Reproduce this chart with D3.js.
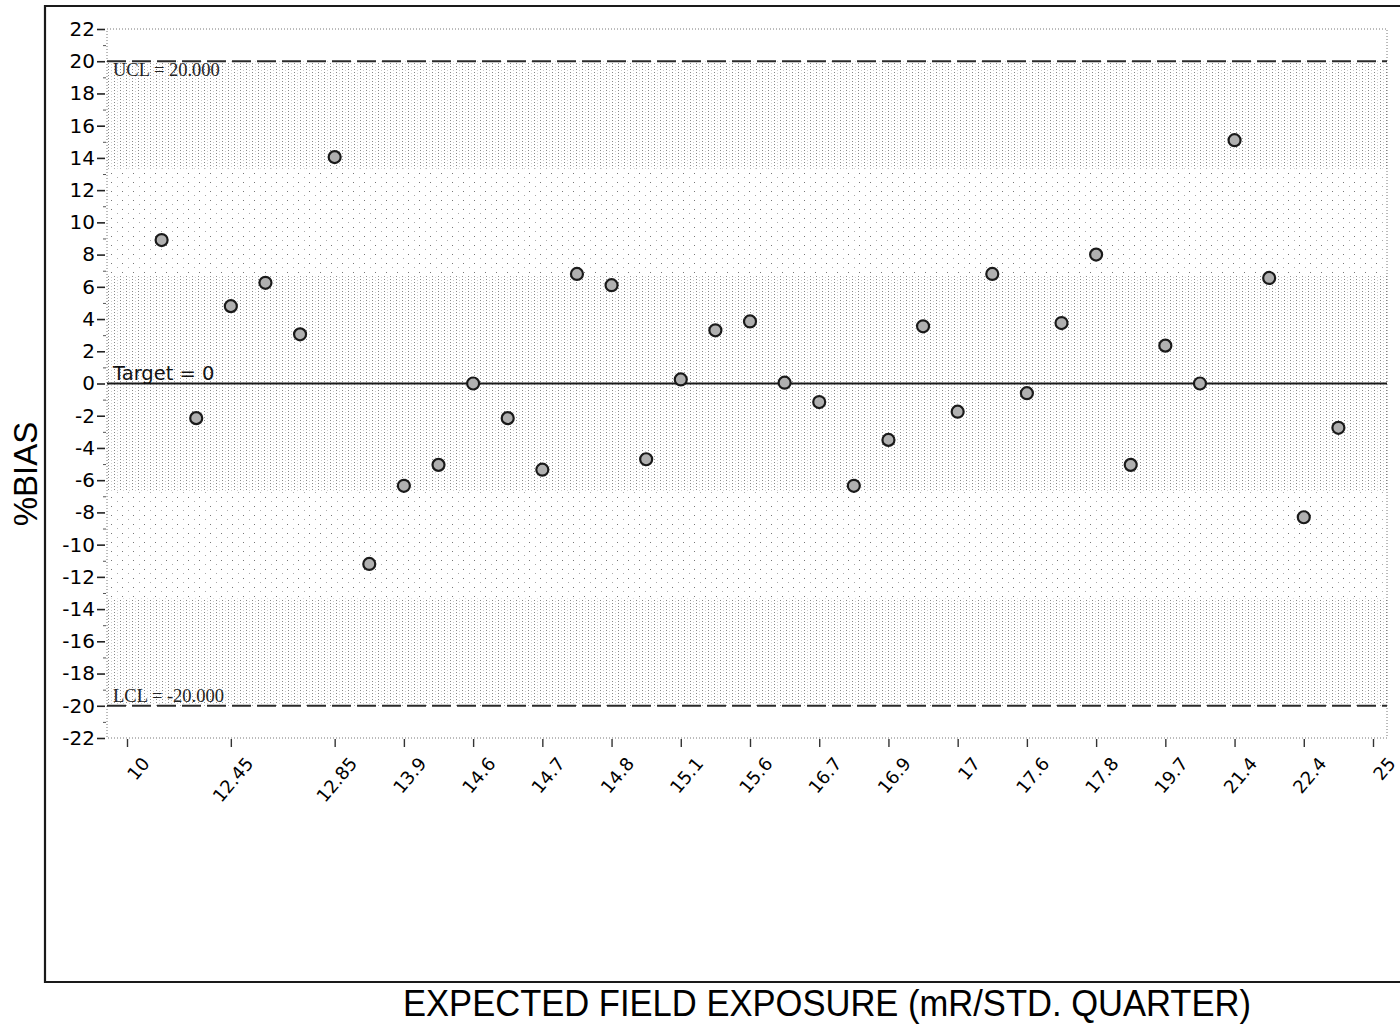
<!DOCTYPE html>
<html>
<head>
<meta charset="utf-8">
<script src="https://cdn.jsdelivr.net/npm/d3@7"></script>
<style>
  html, body { margin: 0; padding: 0; background: #fff; }
  svg { display: block; }
</style>
</head>
<body>
<svg id="chart" width="1400" height="1027"></svg>
<script>
// %BIAS of each sample, in run order (row 1 .. 35)
const biasValues = [
  8.9, -2.15, 4.8, 6.25, 3.05, 14.05, -11.2, -6.35, -5.05, 0.0,
  -2.15, -5.35, 6.8, 6.1, -4.7, 0.25, 3.3, 3.85, 0.05, -1.15,
  -6.35, -3.5, 3.55, -1.75, 6.8, -0.6, 3.75, 8.0, -5.05, 2.35,
  0.0, 15.1, 6.55, -8.3, -2.75
];

// Axis rows carrying an exposure label, and the labels themselves
const xTickRows = [0, 3, 6, 8, 10, 12, 14, 16, 18, 20, 22, 24, 26, 28, 30, 32, 34, 36];
const xTickLabels = ["10", "12.45", "12.85", "13.9", "14.6", "14.7", "14.8", "15.1", "15.6",
                     "16.7", "16.9", "17", "17.6", "17.8", "19.7", "21.4", "22.4", "25"];

// Vertical axis ticks
const yMajorTicks = d3.range(-22, 23, 2);
const yMinorTicks = d3.range(-21, 22, 2);

// Control limits
const centerLine = 0;
const upperLimit = 20;
const lowerLimit = -20;

const svg = d3.select("#chart");

const plot = { left: 107, right: 1387, top: 29, bottom: 738 };

const x = d3.scaleLinear().domain([0, 36]).range([127, 1373]);
const y = d3.scaleLinear().domain([-22, 22]).range([plot.bottom, plot.top]);

// Halftone-like fills for the control zones
const defs = svg.append("defs");
const dense = defs.append("pattern").attr("id", "zoneDense")
  .attr("patternUnits", "userSpaceOnUse").attr("width", 6).attr("height", 3);
dense.append("rect").attr("x", 0).attr("y", 0).attr("width", 1).attr("height", 1).attr("fill", "#888");
dense.append("rect").attr("x", 3).attr("y", 1).attr("width", 1).attr("height", 1).attr("fill", "#ccc");

const sparse = defs.append("pattern").attr("id", "zoneSparse")
  .attr("patternUnits", "userSpaceOnUse").attr("width", 11).attr("height", 9);
sparse.append("rect").attr("x", 1).attr("y", 2).attr("width", 1).attr("height", 1).attr("fill", "#777");
sparse.append("rect").attr("x", 7).attr("y", 6).attr("width", 1).attr("height", 1).attr("fill", "#aaa");

const sigma = (upperLimit - centerLine) / 3;
const zones = [
  { lo: centerLine + 2 * sigma, hi: upperLimit, fill: "url(#zoneDense)" },
  { lo: centerLine + sigma, hi: centerLine + 2 * sigma, fill: "url(#zoneSparse)" },
  { lo: centerLine - sigma, hi: centerLine + sigma, fill: "url(#zoneDense)" },
  { lo: centerLine - 2 * sigma, hi: centerLine - sigma, fill: "url(#zoneSparse)" },
  { lo: lowerLimit, hi: centerLine - 2 * sigma, fill: "url(#zoneDense)" }
];
svg.append("g").selectAll("rect").data(zones).join("rect")
  .attr("x", plot.left).attr("width", plot.right - plot.left)
  .attr("y", d => y(d.hi)).attr("height", d => y(d.lo) - y(d.hi))
  .attr("fill", d => d.fill);

// Outer frame (top, left, bottom)
svg.append("path")
  .attr("d", "M1400,6 H45 V982 H1400")
  .attr("fill", "none").attr("stroke", "#1a1a1a").attr("stroke-width", 2.2);

// Dotted plot border
svg.append("rect")
  .attr("x", plot.left).attr("y", plot.top)
  .attr("width", plot.right - plot.left).attr("height", plot.bottom - plot.top)
  .attr("fill", "none").attr("stroke", "#777").attr("stroke-width", 1)
  .attr("stroke-dasharray", "1,2");

// Y axis
const yAxis = d3.axisLeft(y).tickValues(yMajorTicks).tickSize(8).tickPadding(2)
  .tickFormat(d => String(d));
const gy = svg.append("g").attr("transform", `translate(${plot.left - 2},0)`).call(yAxis);
gy.select(".domain").remove();
gy.selectAll(".tick line").attr("stroke", "#222").attr("stroke-width", 1.6);
gy.selectAll(".tick text")
  .attr("font-family", "DejaVu Sans, Verdana, sans-serif")
  .attr("font-size", 20).attr("fill", "#000");
const yMinor = d3.axisLeft(y).tickValues(yMinorTicks).tickSize(3).tickFormat("");
const gym = svg.append("g").attr("transform", `translate(${plot.left - 1},0)`).call(yMinor);
gym.select(".domain").remove();
gym.selectAll(".tick line").attr("stroke", "#555").attr("stroke-width", 1);

// X axis
const xAxis = d3.axisBottom(x).tickValues(xTickRows).tickSize(8)
  .tickFormat((d, i) => xTickLabels[i]);
const gx = svg.append("g").attr("transform", `translate(0,${plot.bottom + 1})`).call(xAxis);
gx.select(".domain").remove();
gx.selectAll(".tick line").attr("stroke", "#333").attr("stroke-width", 1.4);
gx.selectAll(".tick text")
  .attr("font-family", "DejaVu Sans, Verdana, sans-serif")
  .attr("font-size", 18).attr("fill", "#000")
  .attr("text-anchor", "end")
  .attr("y", 0).attr("dy", 0)
  .attr("transform", "translate(23,25) rotate(-50)");

// Control limit lines
svg.append("line")
  .attr("x1", plot.left).attr("x2", plot.right)
  .attr("y1", y(upperLimit)).attr("y2", y(upperLimit))
  .attr("stroke", "#2a2a2a").attr("stroke-width", 2).attr("stroke-dasharray", "19,6");
svg.append("line")
  .attr("x1", plot.left).attr("x2", plot.right)
  .attr("y1", y(lowerLimit)).attr("y2", y(lowerLimit))
  .attr("stroke", "#2a2a2a").attr("stroke-width", 2).attr("stroke-dasharray", "19,6");
svg.append("line")
  .attr("x1", plot.left).attr("x2", plot.right)
  .attr("y1", y(centerLine)).attr("y2", y(centerLine))
  .attr("stroke", "#1a1a1a").attr("stroke-width", 2);

// Limit labels
svg.append("text")
  .attr("x", plot.left + 6).attr("y", y(upperLimit) + 15)
  .attr("font-family", "Liberation Serif, Times New Roman, serif")
  .attr("font-size", 18.5).attr("fill", "#222")
  .text("UCL = " + upperLimit.toFixed(3));
svg.append("text")
  .attr("x", plot.left + 6).attr("y", y(lowerLimit) - 4)
  .attr("font-family", "Liberation Serif, Times New Roman, serif")
  .attr("font-size", 18.5).attr("fill", "#222")
  .text("LCL = " + lowerLimit.toFixed(3));
svg.append("text")
  .attr("x", plot.left + 6).attr("y", y(centerLine) - 4)
  .attr("font-family", "DejaVu Sans, Verdana, sans-serif")
  .attr("font-size", 19.5).attr("fill", "#111")
  .text("Target = " + centerLine);

// Sample points
svg.append("g").selectAll("circle").data(biasValues).join("circle")
  .attr("cx", (d, i) => x(i + 1))
  .attr("cy", d => y(d))
  .attr("r", 6)
  .attr("fill", "#b0b0b0")
  .attr("stroke", "#1a1a1a")
  .attr("stroke-width", 2.2);

// Axis titles
svg.append("text")
  .attr("transform", "translate(37,474) rotate(-90)")
  .attr("text-anchor", "middle")
  .attr("font-family", "Liberation Sans, Arial, sans-serif")
  .attr("font-size", 33).attr("fill", "#000")
  .text("%BIAS");
svg.append("text")
  .attr("x", 403).attr("y", 1016)
  .attr("textLength", 848).attr("lengthAdjust", "spacingAndGlyphs")
  .attr("font-family", "Liberation Sans, Arial, sans-serif")
  .attr("font-size", 36).attr("fill", "#000")
  .text("EXPECTED FIELD EXPOSURE (mR/STD. QUARTER)");
</script>
</body>
</html>
